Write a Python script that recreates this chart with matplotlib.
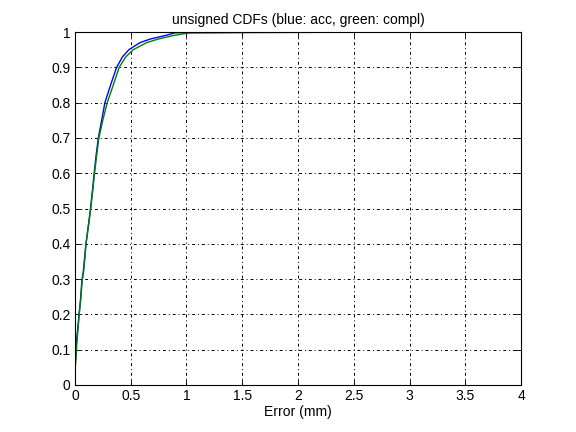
"""Unsigned error CDFs, MATLAB-style figure."""

import matplotlib
matplotlib.use("Agg")
import matplotlib.pyplot as plt

plt.rcParams["font.family"] = ["Liberation Sans", "DejaVu Sans"]

acc_err = [0.0, 0.0, 0.009, 0.015, 0.027, 0.039, 0.05, 0.063, 0.075, 0.087, 0.099, 0.12,
           0.14, 0.157, 0.173, 0.19, 0.21, 0.24, 0.269, 0.32, 0.374, 0.427, 0.484,
           0.583, 0.673, 0.807, 0.9, 3.03]
acc_cdf = [0.0, 0.048, 0.085, 0.127, 0.165, 0.205, 0.24, 0.297, 0.32, 0.36, 0.4, 0.45,
           0.5, 0.55, 0.6, 0.65, 0.7, 0.75, 0.8, 0.85, 0.9, 0.93, 0.95,
           0.97, 0.98, 0.99, 0.998, 1.0]

compl_err = [0.0, 0.003, 0.012, 0.018, 0.03, 0.04, 0.052, 0.066, 0.078, 0.09, 0.1, 0.122,
             0.142, 0.16, 0.176, 0.195, 0.215, 0.25, 0.29, 0.344, 0.397, 0.457, 0.523,
             0.643, 0.745, 0.88, 1.03, 1.88]
compl_cdf = [0.0, 0.048, 0.085, 0.12, 0.165, 0.205, 0.24, 0.297, 0.32, 0.36, 0.4, 0.45,
             0.5, 0.55, 0.6, 0.65, 0.7, 0.75, 0.8, 0.85, 0.9, 0.93, 0.95,
             0.97, 0.98, 0.99, 0.998, 1.0]

x_ticks = [0, 0.5, 1, 1.5, 2, 2.5, 3, 3.5, 4]
x_labels = ["0", "0.5", "1", "1.5", "2", "2.5", "3", "3.5", "4"]
y_ticks = [0, 0.1, 0.2, 0.3, 0.4, 0.5, 0.6, 0.7, 0.8, 0.9, 1]
y_labels = ["0", "0.1", "0.2", "0.3", "0.4", "0.5", "0.6", "0.7", "0.8", "0.9", "1"]

fig = plt.figure(figsize=(5.76, 4.32), dpi=100)
ax = fig.add_axes([0.13, 0.1088, 0.775, 0.817])

ax.plot(acc_err, acc_cdf, color="#0000ff", lw=1.0)
ax.plot(compl_err, compl_cdf, color="#008000", lw=1.0)

ax.set_xlim(0, 4)
ax.set_ylim(0, 1)
ax.set_xticks(x_ticks)
ax.set_xticklabels(x_labels)
ax.set_yticks(y_ticks)
ax.set_yticklabels(y_labels)
ax.tick_params(direction="in", length=4, width=0.6, top=True, right=True,
               labelsize=10, colors="black", pad=3)
for s in ax.spines.values():
    s.set_linewidth(0.8)
    s.set_color("black")

ax.grid(True, color="black", lw=0.7, linestyle=(0, (3, 3, 1, 3)))
ax.set_axisbelow(True)

ax.set_title("unsigned CDFs (blue: acc, green: compl)", fontsize=10, pad=6)
ax.set_xlabel("Error (mm)", fontsize=10, labelpad=1)

fig.savefig("out.png", dpi=100, facecolor="white")
